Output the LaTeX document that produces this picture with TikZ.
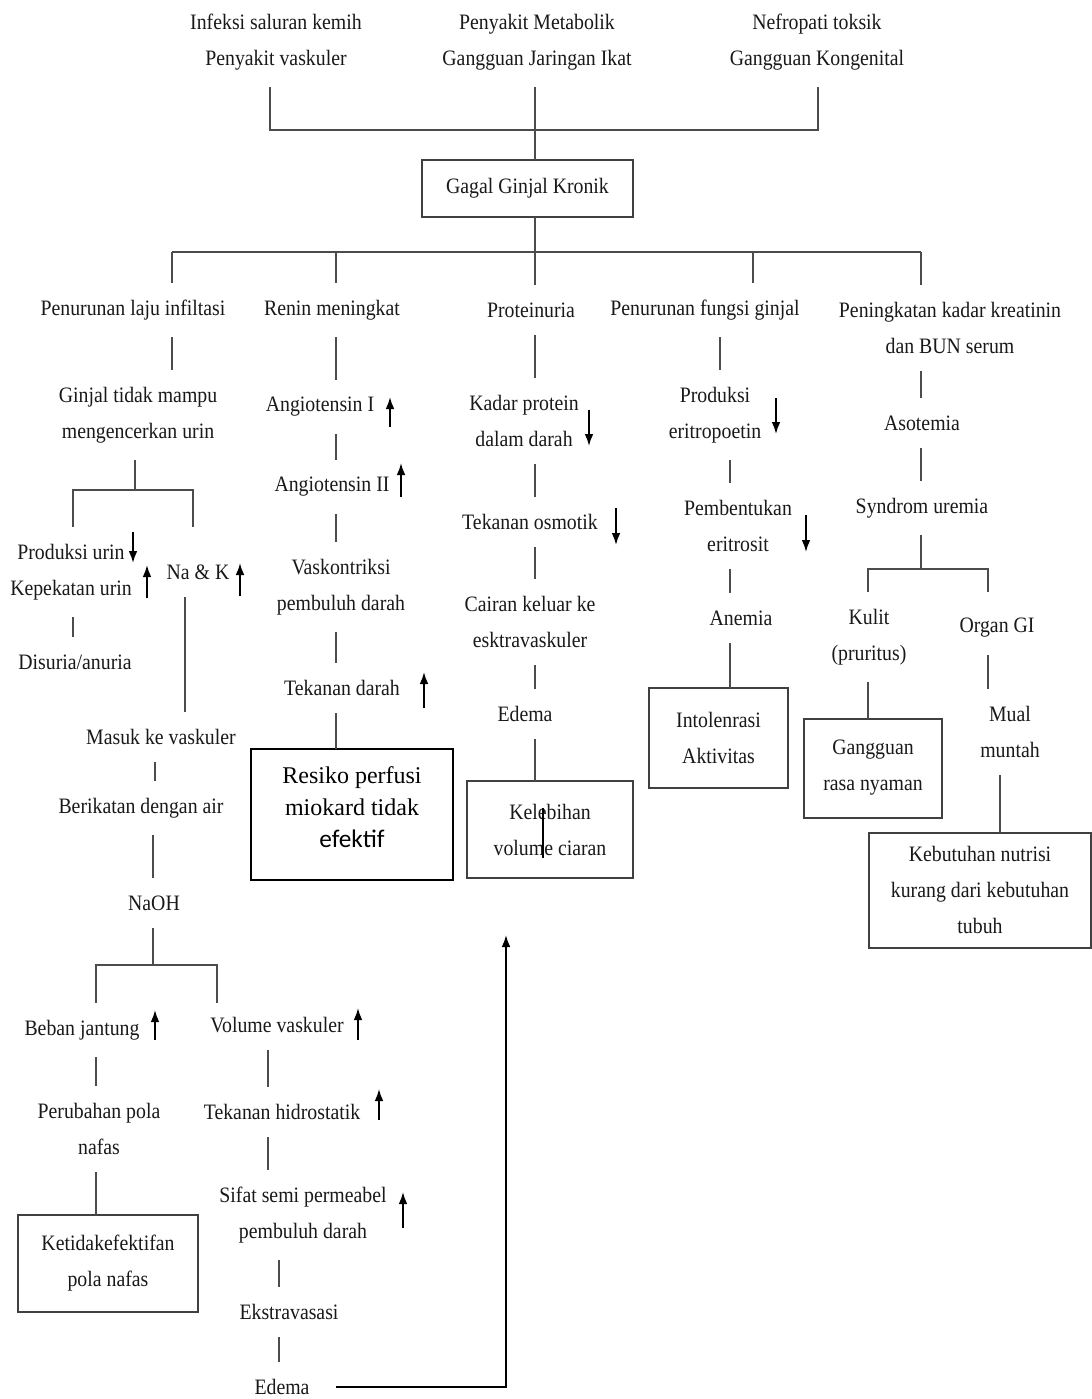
\documentclass[tikz,border=0pt]{standalone}
\usepackage{fontspec}
\setmainfont{Liberation Serif}
\newfontfamily\cond{Liberation Serif}[FakeStretch=0.9]
\newfontfamily\carl{Carlito}
\usetikzlibrary{arrows.meta}
\begin{document}
\begin{tikzpicture}[x=0.75pt,y=-0.75pt,
  txt/.style={font=\cond\fontsize{16.5}{27}\selectfont, align=center, inner sep=0pt, outer xsep=0pt, outer ysep=13pt, text=black!90},
  bx/.style={draw=black!75, line width=1.5pt, inner sep=0pt, outer sep=0pt, align=center, text=black!90, font=\cond\fontsize{16.5}{27}\selectfont},
  ln/.style={draw=black!70, line width=1.1pt},
  arr/.style={-{Latex[length=9pt,width=6.5pt]}, line width=1.2pt, black}]
\fill[white] (0,0) rectangle (1092,1399);
\path[use as bounding box] (0,0) rectangle (1092,1399);

% ---- top causes ----
\node[txt] (t1) at (276,42) {Infeksi saluran kemih\\Penyakit vaskuler};
\node[txt] (t2) at (537,42) {Penyakit Metabolik\\Gangguan Jaringan Ikat};
\node[txt] (t3) at (817,42) {Nefropati toksik\\Gangguan Kongenital};
\node[bx, minimum width=211*0.75pt, minimum height=57*0.75pt] (ggk) at (527.5,188.5) {Gagal Ginjal Kronik};

% ---- level 1 ----
\node[txt] (n1) at (133,310) {Penurunan laju infiltasi};
\node[txt] (n2) at (332,310) {Renin meningkat};
\node[txt] (n3) at (531,310) {Proteinuria};
\node[txt] (n4) at (705,310) {Penurunan fungsi ginjal};
\node[txt] (n5) at (950,328) {Peningkatan kadar kreatinin\\dan BUN serum};

% ---- column 1 ----
\node[txt] (ginjal) at (138,415) {Ginjal tidak mampu\\mengencerkan urin};
\node[txt] (pu) at (71,572) {Produksi urin\\Kepekatan urin};
\node[txt] (nak) at (198,572) {Na \& K};
\node[txt] (dis) at (75,662) {Disuria/anuria};
\node[txt] (masuk) at (161,737) {Masuk ke vaskuler};
\node[txt] (berik) at (141,808) {Berikatan dengan air};
\node[txt] (naoh) at (154,903) {NaOH};
\node[txt] (beban) at (82,1030) {Beban jantung};
\node[txt] (vol) at (277,1025) {Volume vaskuler};
\node[txt] (perub) at (99,1129) {Perubahan pola\\nafas};
\node[bx, minimum width=180*0.75pt, minimum height=97*0.75pt] (ketbox) at (108,1263.5) {Ketidakefektifan\\pola nafas};
\node[txt] (tekh) at (282,1112) {Tekanan hidrostatik};
\node[txt] (sifat) at (303,1215) {Sifat semi permeabel\\pembuluh darah};
\node[txt] (ekstra) at (289,1312) {Ekstravasasi};
\node[txt] (edema2) at (282,1387) {Edema};

% ---- column 2 ----
\node[txt] (ang1) at (320,407) {Angiotensin I};
\node[txt] (ang2) at (332,487) {Angiotensin II};
\node[txt] (vask) at (341,587) {Vaskontriksi\\pembuluh darah};
\node[txt] (tekd) at (342,688) {Tekanan darah};
\node[draw=black, line width=1pt, inner sep=0pt, outer sep=0pt, align=center,
  font=\fontsize{18}{24}\selectfont,
  minimum width=202*0.75pt, minimum height=131*0.75pt]
  (resiko) at (352,814.5) {Resiko perfusi\\miokard tidak\\{\carl\fontsize{19}{24}\selectfont efektif}\\[-13pt]};

% ---- column 3 ----
\node[txt] (kadar) at (524,421) {Kadar protein\\dalam darah};
\node[txt] (osm) at (530,522) {Tekanan osmotik};
\node[txt] (cairan) at (530,622) {Cairan keluar ke\\esktravaskuler};
\node[txt] (edema1) at (525,714) {Edema};
\node[bx, minimum width=166*0.75pt, minimum height=97*0.75pt] (keleb) at (550,829.5) {Kelebihan\\volume ciaran};

% ---- column 4 ----
\node[txt] (prodE) at (715,415) {Produksi\\eritropoetin};
\node[txt] (pemb) at (738,526) {Pembentukan\\eritrosit};
\node[txt] (anemia) at (741,618) {Anemia};
\node[bx, minimum width=139*0.75pt, minimum height=100*0.75pt] (intol) at (718.5,738) {Intolenrasi\\Aktivitas};

% ---- column 5 ----
\node[txt] (asot) at (922,423) {Asotemia};
\node[txt] (synd) at (922,508) {Syndrom uremia};
\node[txt] (kulit) at (869,637) {Kulit\\(pruritus)};
\node[txt] (organ) at (997,628) {Organ GI};
\node[bx, minimum width=138*0.75pt, minimum height=99*0.75pt] (gang) at (873,768) {Gangguan\\rasa nyaman};
\node[txt] (mual) at (1010,732) {Mual\\muntah};
\node[bx, minimum width=222*0.75pt, minimum height=115*0.75pt] (keb) at (980,890) {Kebutuhan nutrisi\\kurang dari kebutuhan\\tubuh};

% ---- junction coordinates ----
\coordinate (J0) at (535,130);
\coordinate (J0a) at (270,130);
\coordinate (J0c) at (818,130);
\coordinate (J1) at (535,252);
\coordinate (B1) at (172,252);
\coordinate (B2) at (336,252);
\coordinate (B4) at (753,252);
\coordinate (B5) at (921,252);
\coordinate (JA) at (135,490);
\coordinate (JAl) at (73,490);
\coordinate (JAr) at (193,490);
\coordinate (X185) at (185,0);
\coordinate (X155) at (155,0);
\coordinate (JB) at (153,965);
\coordinate (JBl) at (96,965);
\coordinate (JBr) at (217,965);
\coordinate (X268) at (268,0);
\coordinate (X279) at (279,0);
\coordinate (X720) at (720,0);
\coordinate (X730) at (730,0);
\coordinate (JC) at (921,569);
\coordinate (JCl) at (868,569);
\coordinate (JCr) at (988,569);
\coordinate (X1000) at (1000,0);
\coordinate (AE) at (506,935);

% ---- connectors ----
\draw[ln] (J0a |- t1.south) -- (J0a) -- (J0c) -- (J0c |- t3.south);
\draw[ln] (J0 |- t2.south) -- (J0 |- ggk.north);
\draw[ln] (J1 |- ggk.south) -- (J1);
\draw[ln] (B1) -- (B5);
\draw[ln] (B1) -- (B1 |- n1.north);
\draw[ln] (B2) -- (B2 |- n2.north);
\draw[ln] (J1) -- (J1 |- n3.north);
\draw[ln] (B4) -- (B4 |- n4.north);
\draw[ln] (B5) -- (B5 |- n5.north);

% column 1
\draw[ln] (B1 |- n1.south) -- (B1 |- ginjal.north);
\draw[ln] (JA |- ginjal.south) -- (JA);
\draw[ln] (JAl |- pu.north) -- (JAl) -- (JAr) -- (JAr |- pu.north);
\draw[ln] (JAl |- pu.south) -- (JAl |- dis.north);
\draw[ln] (X185 |- nak.south) -- (X185 |- masuk.north);
\draw[ln] (X155 |- masuk.south) -- (X155 |- berik.north);
\draw[ln] (JB |- berik.south) -- (JB |- naoh.north);
\draw[ln] (JB |- naoh.south) -- (JB);
\draw[ln] (JBl |- beban.north) -- (JBl) -- (JBr) -- (JBr |- beban.north);
\draw[ln] (JBl |- beban.south) -- (JBl |- perub.north);
\draw[ln] (JBl |- perub.south) -- (JBl |- ketbox.north);
\draw[ln] (X268 |- vol.south) -- (X268 |- tekh.north);
\draw[ln] (X268 |- tekh.south) -- (X268 |- sifat.north);
\draw[ln] (X279 |- sifat.south) -- (X279 |- ekstra.north);
\draw[ln] (X279 |- ekstra.south) -- (X279 |- edema2.north);
\draw[arr, shorten <=20pt] (edema2.east) -| (AE);

% column 2
\draw[ln] (B2 |- n2.south) -- (B2 |- ang1.north);
\draw[ln] (B2 |- ang1.south) -- (B2 |- ang2.north);
\draw[ln] (B2 |- ang2.south) -- (B2 |- vask.north);
\draw[ln] (B2 |- vask.south) -- (B2 |- tekd.north);
\draw[ln] (B2 |- tekd.south) -- (B2 |- resiko.north);

% column 3
\draw[ln] (J1 |- n3.south) -- (J1 |- kadar.north);
\draw[ln] (J1 |- kadar.south) -- (J1 |- osm.north);
\draw[ln] (J1 |- osm.south) -- (J1 |- cairan.north);
\draw[ln] (J1 |- cairan.south) -- (J1 |- edema1.north);
\draw[ln] (J1 |- edema1.south) -- (J1 |- keleb.north);
\draw[line width=1.2pt, black] (543,808) -- (543,858);

% column 4
\draw[ln] (X720 |- n4.south) -- (X720 |- prodE.north);
\draw[ln] (X730 |- prodE.south) -- (X730 |- pemb.north);
\draw[ln] (X730 |- pemb.south) -- (X730 |- anemia.north);
\draw[ln] (X730 |- anemia.south) -- (X730 |- intol.north);

% column 5
\draw[ln] (B5 |- n5.south) -- (B5 |- asot.north);
\draw[ln] (B5 |- asot.south) -- (B5 |- synd.north);
\draw[ln] (JC |- synd.south) -- (JC);
\draw[ln] (JCl |- kulit.north) -- (JCl) -- (JCr) -- (JCr |- kulit.north);
\draw[ln] (JCl |- kulit.south) -- (JCl |- gang.north);
\draw[ln] (JCr |- organ.south) -- (JCr |- mual.north);
\draw[ln] (X1000 |- mual.south) -- (X1000 |- keb.north);

% ---- up / down marks ----
\draw[arr] (133,532) -- (133,563);
\draw[arr] (147,598) -- (147,565);
\draw[arr] (240,596) -- (240,563);
\draw[arr] (390,427) -- (390,397);
\draw[arr] (401,497) -- (401,463);
\draw[arr] (424,708) -- (424,672);
\draw[arr] (589,410) -- (589,446);
\draw[arr] (616,508) -- (616,545);
\draw[arr] (776,398) -- (776,434);
\draw[arr] (806,515) -- (806,552);
\draw[arr] (155,1040) -- (155,1010);
\draw[arr] (358,1040) -- (358,1008);
\draw[arr] (379,1120) -- (379,1089);
\draw[arr] (403,1228) -- (403,1192);
\end{tikzpicture}
\end{document}
